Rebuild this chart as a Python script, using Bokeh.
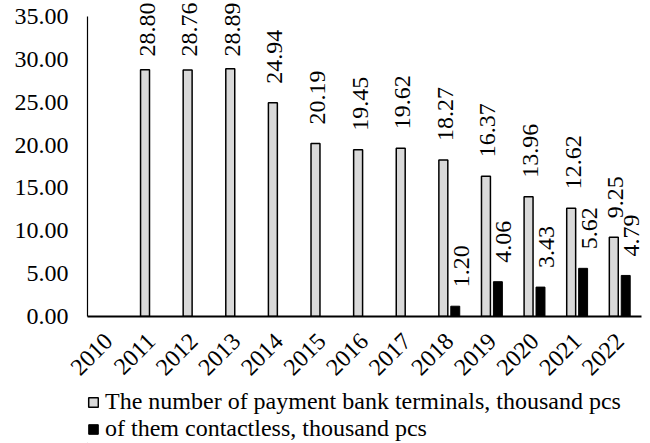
import math
from bokeh.plotting import figure
from bokeh.layouts import column
from bokeh.models import (ColumnDataSource, Range1d, FixedTicker,
                          PrintfTickFormatter, Legend, LegendItem)
from bokeh.transform import dodge
from bokeh.core.properties import value
from bokeh.embed import file_html
from bokeh.resources import INLINE

# ---- data ----
years = ["2010", "2011", "2012", "2013", "2014", "2015", "2016",
         "2017", "2018", "2019", "2020", "2021", "2022"]
terminal_years = ["2011", "2012", "2013", "2014", "2015", "2016",
                  "2017", "2018", "2019", "2020", "2021", "2022"]
terminals = [28.80, 28.76, 28.89, 24.94, 20.19, 19.45, 19.62, 18.27,
             16.37, 13.96, 12.62, 9.25]
contactless_years = ["2018", "2019", "2020", "2021", "2022"]
contactless = [1.20, 4.06, 3.43, 5.62, 4.79]
y_ticks = [0, 5, 10, 15, 20, 25, 30, 35]
legend_labels = ["The number of payment bank terminals, thousand pcs",
                 "of them contactless, thousand pcs"]

FONT = "Liberation Serif"
FS = "24px"

W = 650
H1, H2 = 392, 51
LEFT, RIGHT, TOP, BOTTOM = 87, 9, 0, 76
FRAME_H = H1 - TOP - BOTTOM
PX_PER_UNIT = 300 / 35.0
Y_END = FRAME_H / PX_PER_UNIT

def slot(y):
    return years.index(y) + 0.5

def label_offsets(vals, text_len=55, gap=19):
    out = []
    for v in vals:
        room = (Y_END - v) * PX_PER_UNIT - text_len - 1
        out.append(-min(gap, room))
    return out

src_t = ColumnDataSource(dict(x=[slot(y) for y in terminal_years], top=terminals,
                              txt=["%.2f" % v for v in terminals],
                              off=label_offsets(terminals)))
src_c = ColumnDataSource(dict(x=[slot(y) for y in contactless_years], top=contactless,
                              txt=["%.2f" % v for v in contactless],
                              off=label_offsets(contactless)))

p = figure(x_range=Range1d(0, len(years)), y_range=Range1d(0, Y_END),
           width=W, height=H1, output_backend="svg", toolbar_location=None,
           min_border_left=LEFT, min_border_right=RIGHT,
           min_border_top=TOP, min_border_bottom=BOTTOM)
p.outline_line_color = None
p.xgrid.grid_line_color = None
p.ygrid.grid_line_color = None

GOFF, COFF = -0.15, 0.13
GREY = "#d9d9d9"
r1 = p.vbar(x=dodge("x", GOFF), top="top", bottom=0,
            width=0.21, source=src_t, fill_color=GREY,
            line_color="black", line_width=1.5)
r2 = p.vbar(x=dodge("x", COFF), top="top", bottom=0,
            width=0.21, source=src_c, fill_color="black", line_color="black",
            line_width=1)

for src, off, xo in ((src_t, GOFF, 2), (src_c, COFF, 6)):
    p.text(x=dodge("x", off), y="top", text="txt",
           x_offset=xo, y_offset="off", source=src, angle=math.pi / 2,
           text_align="left", text_baseline="middle",
           text_font=value(FONT), text_font_size=FS, text_color="black")

# y axis
yax = p.yaxis[0]
yax.ticker = FixedTicker(ticks=y_ticks)
yax.formatter = PrintfTickFormatter(format="%.2f")
yax.bounds = (0, 35)
yax.axis_line_color = "black"
yax.axis_line_width = 1.2
yax.major_tick_line_color = None
yax.minor_tick_line_color = None
yax.major_tick_out = 0
yax.major_tick_in = 0
yax.major_label_standoff = 19
yax.major_label_text_font = FONT
yax.major_label_text_font_size = FS
yax.major_label_text_color = "black"

# x axis: year labels
tick_pos = [slot(y) for y in years]
xax = p.xaxis[0]
xax.ticker = FixedTicker(ticks=tick_pos)
xax.major_label_overrides = {t: y for t, y in zip(tick_pos, years)}
xax.axis_line_color = "black"
xax.axis_line_width = 1.8
xax.major_tick_line_color = None
xax.minor_tick_line_color = None
xax.major_tick_out = 0
xax.major_tick_in = 0
xax.major_label_orientation = math.pi / 4
xax.major_label_standoff = 21
xax.major_label_text_font = FONT
xax.major_label_text_font_size = FS
xax.major_label_text_color = "black"

# legend strip (second figure, frame aligned with the chart above)
p2 = figure(width=W, height=H2, x_range=Range1d(0, 1), y_range=Range1d(0, 1),
            output_backend="svg", toolbar_location=None,
            x_axis_location=None, y_axis_location=None,
            min_border_left=0, min_border_right=0,
            min_border_top=0, min_border_bottom=0)
p2.outline_line_color = None
p2.xgrid.grid_line_color = None
p2.ygrid.grid_line_color = None
# legend proxies: one bar each, placed outside the visible range
proxy = ColumnDataSource(dict(x=[-5.0], top=[0.0]))
d1 = p2.vbar(x="x", top="top", width=0.1, source=proxy, fill_color=GREY,
             line_color="black", line_width=1.5)
d2 = p2.vbar(x="x", top="top", width=0.1, source=proxy, fill_color="black",
             line_color="black", line_width=1)
legend = Legend(items=[LegendItem(label=legend_labels[0], renderers=[d1]),
                       LegendItem(label=legend_labels[1], renderers=[d2])],
                location=(0, 1))
legend.label_text_font = FONT
legend.label_text_font_size = FS
legend.label_text_color = "black"
legend.glyph_width = 12
legend.glyph_height = 12
legend.label_standoff = 6
legend.label_height = 25
legend.spacing = 0
legend.padding = 0
legend.margin = 0
legend.border_line_color = None
legend.background_fill_alpha = 0
p2.add_layout(legend)

layout = column(p, p2, spacing=0)
open("out.html", "w").write(file_html(layout, INLINE))
